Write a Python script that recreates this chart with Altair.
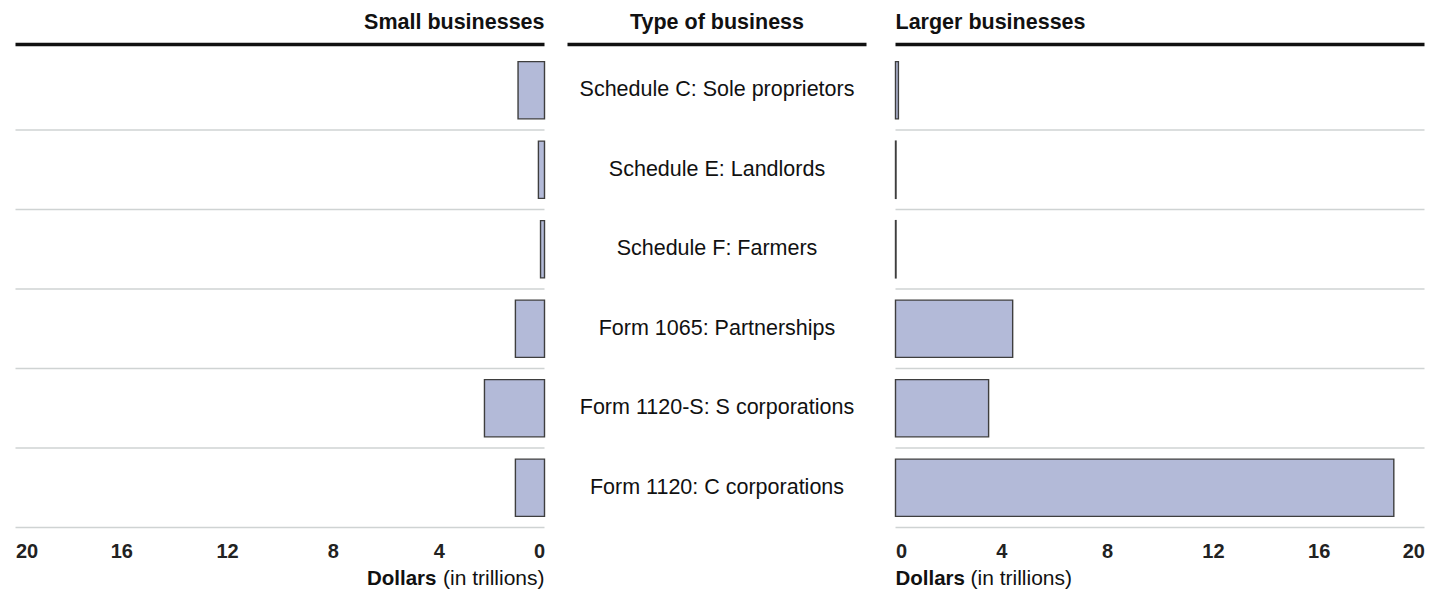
import altair as alt
import pandas as pd

# ---- data ----
categories = [
    "Schedule C: Sole proprietors",
    "Schedule E: Landlords",
    "Schedule F: Farmers",
    "Form 1065: Partnerships",
    "Form 1120-S: S corporations",
    "Form 1120: C corporations",
]
small_values = [1.0, 0.23, 0.15, 1.1, 2.27, 1.1]
large_values = [0.11, 0.02, 0.02, 4.43, 3.52, 18.84]
tick_values = [0, 4, 8, 12, 16, 20]
panel_titles = ["Small businesses", "Type of business", "Larger businesses"]
axis_title_bold = "Dollars"
axis_title_rest = "(in trillions)"

FONT = "Liberation Sans"
W = 529      # side panel plot width
WM = 307     # middle column width
LM = 299     # middle header line length
H = 477      # plot height
BAR_FILL = "#b3bad8"
BAR_STROKE = "#3e3e3e"
GRID = "#cfd3d3"
TEXT = "#111111"

df = pd.DataFrame({"category": categories, "small": small_values, "large": large_values})

yscale = alt.Scale(paddingInner=0, paddingOuter=0)


def one(value):
    return pd.DataFrame({"t": [value]})


def header(line_width, title, align, tx):
    line = alt.Chart(one("line")).mark_rule(color=TEXT, strokeWidth=3.5).encode(
        x=alt.value(0), x2=alt.value(line_width), y=alt.value(-6)
    )
    ttl = alt.Chart(one(title)).mark_text(
        font=FONT, fontSize=21.5, fontWeight="bold", align=align,
        baseline="alphabetic", color=TEXT
    ).encode(text="t:N", x=alt.value(tx), y=alt.value(-22))
    return [line, ttl]


def side_panel(field, reverse, title):
    base = alt.Chart(df)
    xscale = alt.Scale(domain=[0, 20], reverse=reverse, nice=False)
    bars = base.mark_bar(
        height=alt.RelativeBandSize(0.72), fill=BAR_FILL, stroke=BAR_STROKE, strokeWidth=1.4
    ).encode(
        x=alt.X(
            f"{field}:Q", scale=xscale, title=None,
            axis=alt.Axis(
                values=tick_values, labelFlush=True, domain=False, ticks=False, tickSize=0,
                grid=False, labelFont=FONT, labelFontSize=20, labelFontWeight="bold",
                labelColor="#222222", labelPadding=13.5, format="d",
            ),
        ),
        y=alt.Y("category:N", sort=categories, axis=None, scale=yscale),
    )
    seps = base.mark_rule(color=GRID, strokeWidth=1.5).encode(
        y=alt.Y("category:N", sort=categories, bandPosition=1, axis=None, scale=yscale),
        x=alt.value(0), x2=alt.value(W),
    )
    if reverse:
        hdr = header(W, title, "right", W)
        t_bold = alt.Chart(one(axis_title_bold)).mark_text(
            font=FONT, fontSize=20.5, fontWeight="bold", align="right",
            baseline="alphabetic", color=TEXT
        ).encode(text="t:N", x=alt.value(W - 108), y=alt.value(H + 57.5))
        t_rest = alt.Chart(one(axis_title_rest)).mark_text(
            font=FONT, fontSize=21, align="right", baseline="alphabetic", color=TEXT
        ).encode(text="t:N", x=alt.value(W), y=alt.value(H + 57.5))
    else:
        hdr = header(W, title, "left", 0)
        t_bold = alt.Chart(one(axis_title_bold)).mark_text(
            font=FONT, fontSize=20.5, fontWeight="bold", align="left",
            baseline="alphabetic", color=TEXT
        ).encode(text="t:N", x=alt.value(0), y=alt.value(H + 57.5))
        t_rest = alt.Chart(one(axis_title_rest)).mark_text(
            font=FONT, fontSize=21, align="left", baseline="alphabetic", color=TEXT
        ).encode(text="t:N", x=alt.value(75), y=alt.value(H + 57.5))
    return alt.layer(seps, bars, *hdr, t_bold, t_rest).properties(width=W, height=H)


left = side_panel("small", True, panel_titles[0])
right = side_panel("large", False, panel_titles[2])

mid_labels = alt.Chart(df).mark_text(
    font=FONT, fontSize=21.5, align="center", baseline="middle", color=TEXT
).encode(
    y=alt.Y("category:N", sort=categories, axis=None, scale=yscale),
    text="category:N",
    x=alt.value(LM / 2),
)
middle = alt.layer(mid_labels, *header(LM, panel_titles[1], "center", LM / 2)).properties(
    width=WM, height=H
)

chart = (
    alt.hconcat(left, middle, right, spacing=19)
    .properties(
        padding={"left": 5.5, "top": 3.5, "right": 5, "bottom": 0},
        background="white",
    )
    .configure_view(stroke="transparent", strokeWidth=0)
)

chart.save("out.html", embed_options={"renderer": "svg", "actions": False})
